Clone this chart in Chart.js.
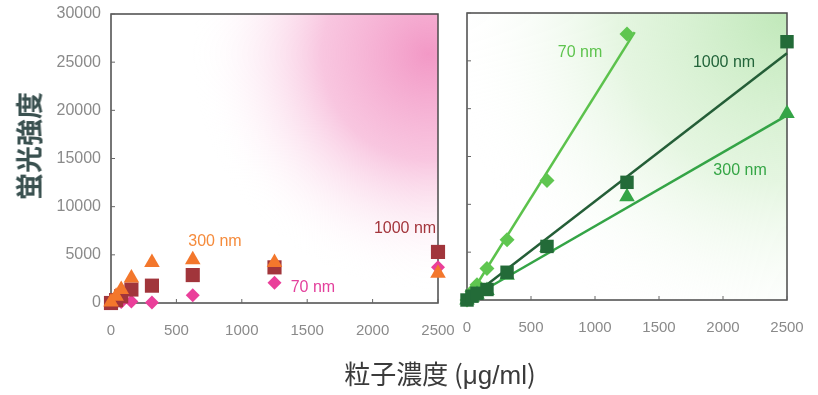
<!DOCTYPE html>
<html>
<head>
<meta charset="utf-8">
<script src="https://cdn.jsdelivr.net/npm/chart.js@4.4.1/dist/chart.umd.min.js"></script>
<style>
  body { margin: 0; background: #fff; }
  #wrap { position: relative; width: 818px; height: 395px; overflow: hidden; }
  canvas { position: absolute; top: 0; }
  #ytitle {
    position: absolute; left: 28px; top: 146px;
    transform: translate(-50%, -50%) rotate(-90deg);
    font: 700 27px "Noto Sans CJK JP", sans-serif; color: #3a5150; white-space: nowrap;
  }
  #xtitle {
    position: absolute; left: 440px; top: 372px;
    transform: translate(-50%, -50%);
    font: 400 26px "Noto Sans CJK JP", sans-serif; color: #3b3b3b; white-space: nowrap;
  }
</style>
</head>
<body>
<div id="wrap">
  <canvas id="left" width="460" height="360" style="left:0"></canvas>
  <canvas id="right" width="378" height="360" style="left:440px"></canvas>
  <div id="ytitle">蛍光強度</div>
  <div id="xtitle">粒子濃度 (<span style="font-family:'Liberation Sans',sans-serif;">μg/ml</span>)</div>
</div>
<script>
// particle concentration (ug/ml)
const conc = [0, 39, 78, 156, 313, 625, 1250, 2500];
const xTicks = [0, 500, 1000, 1500, 2000, 2500];
const yTicks = [0, 5000, 10000, 15000, 20000, 25000, 30000];

// left panel (pink)
const pink70 = [0, 50, 100, 150, 50, 800, 2100, 3700];
const pink300 = [100, 700, 1400, 2600, 4200, 4500, 4200, 3100];
const pink1000 = [0, 300, 700, 1400, 1800, 2900, 3700, 5300];

// right panel (green)
const green70 = [0, 900, 1600, 3300, 6300, 12500, 27800, null];
const green300 = [0, 300, 600, 1000, 2600, 5500, 10800, 19500];
const green1000 = [0, 400, 700, 1100, 2900, 5600, 12300, 27000];

// fitted lines, right panel
const fit70X = [0, 1310], fit70Y = [0, 28000];
const fit300X = [0, 2500], fit300Y = [0, 19300];
const fit1000X = [0, 2500], fit1000Y = [0, 25800];

// size labels
const leftNotes = ["300 nm", "1000 nm", "70 nm"];
const leftNoteX = [795, 2248, 1544];
const leftNoteY = [6330, 7680, 1560];
const leftNoteColor = ["#f58b3c", "#a3353c", "#e3409c"];
const rightNotes = ["70 nm", "1000 nm", "300 nm"];
const rightNoteX = [883, 2008, 2133];
const rightNoteY = [25900, 24800, 13500];
const rightNoteColor = ["#5ec44e", "#22643a", "#35a646"];

const sans = "'Liberation Sans', Arial, sans-serif";

function pts(xs, ys) {
  const out = [];
  for (let i = 0; i < xs.length; i++) {
    if (ys[i] !== null) out.push({ x: xs[i], y: ys[i] });
  }
  return out;
}

function bgPlugin(kind) {
  return {
    id: "bg_" + kind,
    beforeDatasetsDraw(chart) {
      const ctx = chart.ctx, a = chart.chartArea;
      ctx.save();
      let g;
      if (kind === "pink") {
        g = ctx.createRadialGradient(a.right - 10, a.top + 40, 0, a.right - 10, a.top + 40, 235);
        g.addColorStop(0, "rgba(240,135,188,0.85)");
        g.addColorStop(0.45, "rgba(244,160,203,0.6)");
        g.addColorStop(1, "rgba(255,255,255,0)");
      } else {
        g = ctx.createRadialGradient(a.right, a.top, 0, a.right, a.top, 340);
        g.addColorStop(0, "rgba(192,232,185,1)");
        g.addColorStop(0.5, "rgba(215,241,209,0.65)");
        g.addColorStop(1, "rgba(255,255,255,0)");
      }
      ctx.fillStyle = g;
      ctx.fillRect(a.left, a.top, a.right - a.left, a.bottom - a.top);
      // frame
      ctx.strokeStyle = "#4a4a4a";
      ctx.lineWidth = 1.5;
      ctx.strokeRect(a.left, a.top, a.right - a.left, a.bottom - a.top);
      // small inner ticks
      ctx.lineWidth = 1;
      ctx.strokeStyle = "#666";
      const xs = chart.scales.x, ys = chart.scales.y;
      xTicks.forEach(v => {
        const px = xs.getPixelForValue(v);
        ctx.beginPath(); ctx.moveTo(px, a.bottom); ctx.lineTo(px, a.bottom - 4); ctx.stroke();
      });
      yTicks.forEach(v => {
        const py = ys.getPixelForValue(v);
        ctx.beginPath(); ctx.moveTo(a.left, py); ctx.lineTo(a.left + 4, py); ctx.stroke();
      });
      ctx.restore();
    }
  };
}

function notePlugin(texts, xs, ys, colors) {
  return {
    id: "notes",
    afterDatasetsDraw(chart) {
      const ctx = chart.ctx;
      ctx.save();
      ctx.font = "16px " + sans;
      ctx.textAlign = "center";
      ctx.textBaseline = "middle";
      for (let i = 0; i < texts.length; i++) {
        ctx.fillStyle = colors[i];
        ctx.fillText(texts[i], chart.scales.x.getPixelForValue(xs[i]), chart.scales.y.getPixelForValue(ys[i]));
      }
      ctx.restore();
    }
  };
}

function makeScales(yWidth, showY) {
  return {
    x: {
      type: "linear", min: 0, max: 2500,
      afterBuildTicks: s => { s.ticks = xTicks.map(v => ({ value: v })); },
      afterFit: s => { s.height = 57; s.paddingLeft = 0; s.paddingRight = 0; },
      grid: { display: false, drawTicks: false },
      border: { display: false },
      ticks: { color: "#8a8a8a", padding: 19, font: { family: sans, size: 15 },
               callback: v => String(v) }
    },
    y: {
      type: "linear", min: 0, max: 30000,
      afterBuildTicks: s => { s.ticks = yTicks.map(v => ({ value: v })); },
      afterFit: s => { s.width = yWidth; s.paddingTop = 0; s.paddingBottom = 0; },
      grid: { display: false, drawTicks: false },
      border: { display: false },
      ticks: { display: showY, color: "#8a8a8a", padding: 10, font: { family: sans, size: 16 },
               callback: v => String(v) }
    }
  };
}

function markers(label, data, style, radius, color, order) {
  return {
    label: label, data: data, pointStyle: style, pointRadius: radius,
    pointBackgroundColor: color, pointBorderColor: color, pointBorderWidth: 0,
    showLine: false, clip: false, order: order
  };
}

function fitLine(data, color, order) {
  return {
    data: data, showLine: true, pointRadius: 0, borderColor: color,
    borderWidth: 2.5, clip: false, order: order
  };
}

new Chart(document.getElementById("left"), {
  type: "scatter",
  data: {
    datasets: [
      markers("300 nm", pts(conc, pink300), "triangle", 9, "#f3772c", 0),
      markers("1000 nm", pts(conc, pink1000), "rect", 10, "#a1353b", 1),
      markers("70 nm", pts(conc, pink70), "rectRot", 7, "#ea3f9a", 2)
    ]
  },
  options: {
    responsive: false, animation: false,
    layout: { padding: { left: 0, top: 14, right: 22, bottom: 0 } },
    plugins: { legend: { display: false }, tooltip: { enabled: false } },
    scales: makeScales(111, true)
  },
  plugins: [bgPlugin("pink"), notePlugin(leftNotes, leftNoteX, leftNoteY, leftNoteColor)]
});

new Chart(document.getElementById("right"), {
  type: "scatter",
  data: {
    datasets: [
      markers("1000 nm", pts(conc, green1000), "rect", 9.5, "#236b38", 0),
      markers("300 nm", pts(conc, green300), "triangle", 9, "#34a446", 1),
      markers("70 nm", pts(conc, green70), "rectRot", 7.5, "#5fc650", 2),
      fitLine(pts(fit70X, fit70Y), "#5cc24c", 5),
      fitLine(pts(fit300X, fit300Y), "#34a446", 6),
      fitLine(pts(fit1000X, fit1000Y), "#245e37", 7)
    ]
  },
  options: {
    responsive: false, animation: false,
    layout: { padding: { left: 0, top: 13, right: 31, bottom: 3 } },
    plugins: { legend: { display: false }, tooltip: { enabled: false } },
    scales: makeScales(27, false)
  },
  plugins: [bgPlugin("green"), notePlugin(rightNotes, rightNoteX, rightNoteY, rightNoteColor)]
});
</script>
</body>
</html>
